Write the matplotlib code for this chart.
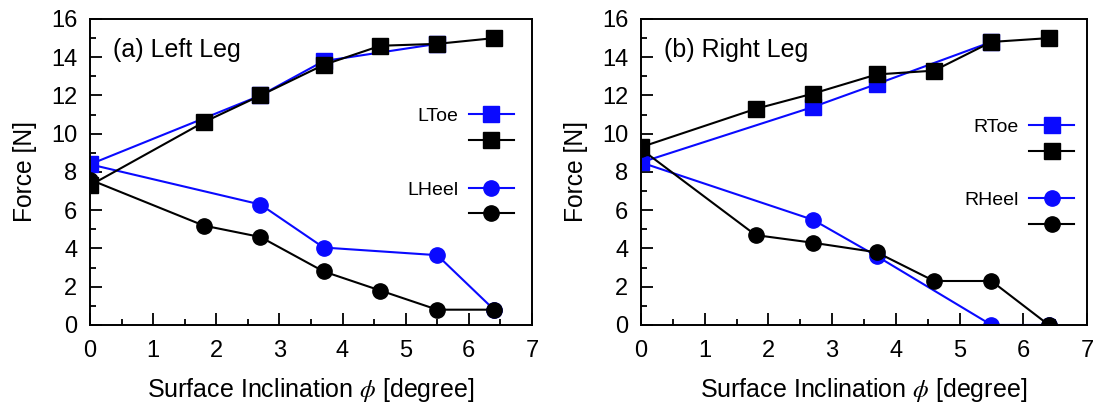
import matplotlib
matplotlib.use("Agg")
import matplotlib.pyplot as plt
from matplotlib.ticker import MultipleLocator

plt.rcParams["font.family"] = ["Liberation Sans", "DejaVu Sans"]
plt.rcParams["mathtext.fontset"] = "stix"

# Left leg data
l_toe_blue_x = [0, 2.7, 3.7, 5.5]
l_toe_blue_y = [8.4, 12.0, 13.8, 14.7]
l_toe_black_x = [0, 1.8, 2.7, 3.7, 4.6, 5.5, 6.4]
l_toe_black_y = [7.3, 10.6, 12.0, 13.6, 14.6, 14.7, 15.0]
l_heel_blue_x = [0, 2.7, 3.7, 5.5, 6.4]
l_heel_blue_y = [8.4, 6.3, 4.05, 3.65, 0.8]
l_heel_black_x = [0, 1.8, 2.7, 3.7, 4.6, 5.5, 6.4]
l_heel_black_y = [7.6, 5.2, 4.6, 2.8, 1.8, 0.8, 0.8]

# Right leg data
r_toe_blue_x = [0, 2.7, 3.7, 5.5]
r_toe_blue_y = [8.5, 11.4, 12.6, 14.8]
r_toe_black_x = [0, 1.8, 2.7, 3.7, 4.6, 5.5, 6.4]
r_toe_black_y = [9.3, 11.3, 12.1, 13.1, 13.3, 14.8, 15.0]
r_heel_blue_x = [0, 2.7, 3.7, 5.5, 6.4]
r_heel_blue_y = [8.5, 5.5, 3.6, 0.0, 0.0]
r_heel_black_x = [0, 1.8, 2.7, 3.7, 4.6, 5.5, 6.4]
r_heel_black_y = [9.2, 4.7, 4.3, 3.8, 2.3, 2.3, 0.0]

BLUE = "#0a0aff"
BLACK = "black"

fig = plt.figure(figsize=(11, 4.12), dpi=100)
ax1 = fig.add_axes([0.0818, 0.2112, 0.4018, 0.7427])
ax2 = fig.add_axes([0.5827, 0.2112, 0.4055, 0.7427])


def draw_panel(ax, title, toe_name, heel_name, tb, tk, hb, hk, leg_x, toe_y, heel_y):
    h1, = ax.plot(tb[0], tb[1], color=BLUE, marker="s", ms=11, lw=1.5)
    h3, = ax.plot(hb[0], hb[1], color=BLUE, marker="o", ms=11, lw=1.5)
    h2, = ax.plot(tk[0], tk[1], color=BLACK, marker="s", ms=11, lw=1.5)
    h4, = ax.plot(hk[0], hk[1], color=BLACK, marker="o", ms=11, lw=1.5)
    ax.set_xlim(0, 7)
    ax.set_ylim(0, 16)
    ax.xaxis.set_major_locator(MultipleLocator(1))
    ax.xaxis.set_minor_locator(MultipleLocator(0.5))
    ax.yaxis.set_major_locator(MultipleLocator(2))
    ax.yaxis.set_minor_locator(MultipleLocator(1))
    ax.tick_params(which="both", direction="in", labelsize=17, top=False, right=False)
    ax.tick_params(which="major", length=8.5, width=1.3)
    ax.tick_params(which="minor", length=4.5, width=1.3)
    ax.tick_params(axis="x", which="major", pad=11)
    ax.tick_params(axis="y", which="major", pad=9)
    for s in ax.spines.values():
        s.set_linewidth(1.4)
    ax.set_xlabel(r"Surface Inclination $\phi$ [degree]", fontsize=18, labelpad=10)
    ax.set_ylabel("Force [N]", fontsize=17.7, labelpad=10)
    ax.text(0.052, 0.877, title, transform=ax.transAxes, fontsize=18, va="baseline")
    leg_kw = dict(loc="center right", frameon=False, markerfirst=False, fontsize=14,
                  handlelength=2.3, handletextpad=0.57, labelspacing=0.42,
                  borderpad=0, borderaxespad=0)
    leg1 = ax.legend([h1, h2], [toe_name, ""], bbox_to_anchor=(leg_x, toe_y), **leg_kw)
    ax.add_artist(leg1)
    ax.legend([h3, h4], [heel_name, ""], bbox_to_anchor=(leg_x, heel_y), **leg_kw)


draw_panel(ax1, "(a) Left Leg", "LToe", "LHeel",
           (l_toe_blue_x, l_toe_blue_y), (l_toe_black_x, l_toe_black_y),
           (l_heel_blue_x, l_heel_blue_y), (l_heel_black_x, l_heel_black_y),
           0.959, 0.640, 0.400)
draw_panel(ax2, "(b) Right Leg", "RToe", "RHeel",
           (r_toe_blue_x, r_toe_blue_y), (r_toe_black_x, r_toe_black_y),
           (r_heel_blue_x, r_heel_blue_y), (r_heel_black_x, r_heel_black_y),
           0.971, 0.605, 0.366)

fig.savefig("out.png", dpi=100)
